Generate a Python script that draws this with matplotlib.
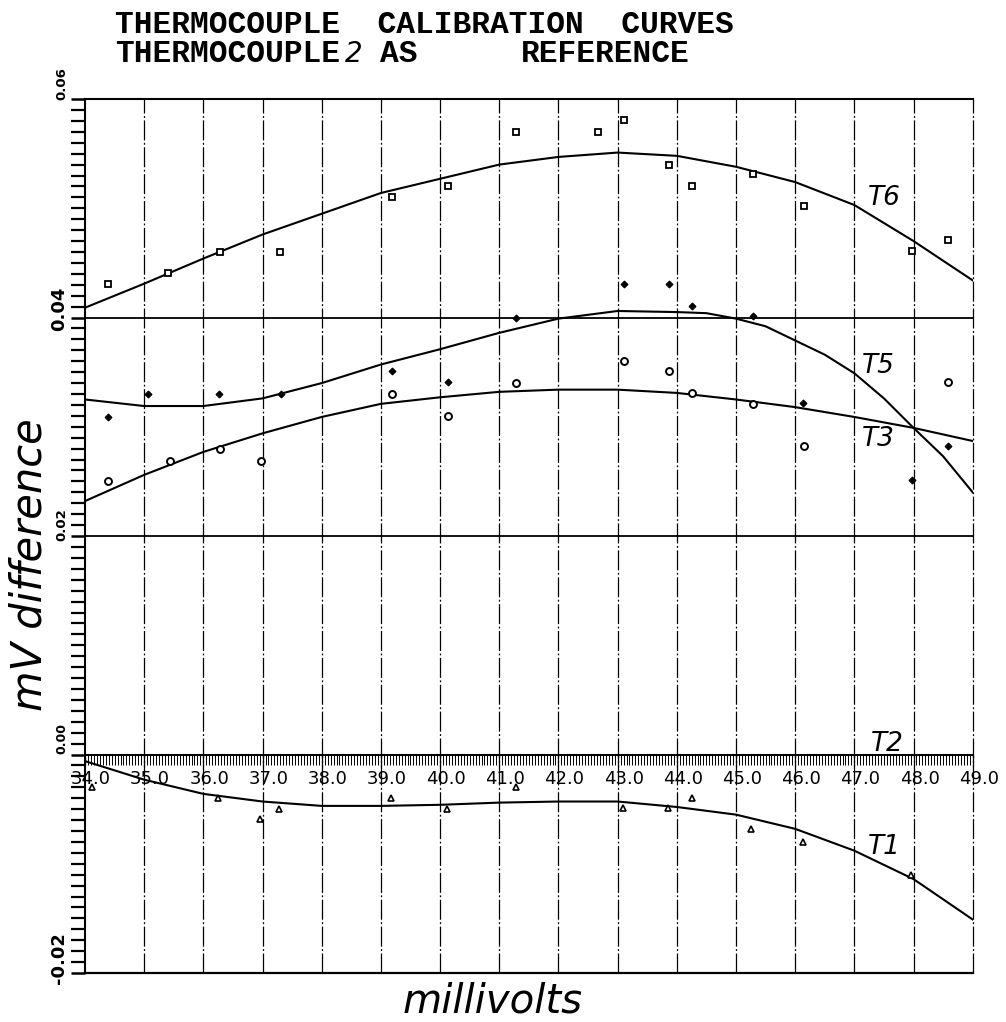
import numpy as np
import matplotlib
matplotlib.use('Agg')
import matplotlib.pyplot as plt
from matplotlib.ticker import MultipleLocator, FixedLocator
import matplotlib.transforms as mtransforms

### data

# measured points (millivolts, mV difference)
t6_x = [34.39, 35.41, 36.28, 37.29, 39.19, 40.14, 41.29, 42.67, 43.10, 43.87, 44.26, 45.29, 46.15, 47.97, 48.58]
t6_y = [0.0431, 0.0441, 0.0460, 0.0460, 0.0510, 0.0520, 0.0570, 0.0570, 0.0581, 0.0540, 0.0520, 0.0531, 0.0502, 0.0461, 0.0471]

t5_x = [34.39, 35.06, 36.27, 37.31, 39.19, 40.14, 41.29, 43.10, 43.87, 44.26, 45.29, 46.13, 47.97, 48.58]
t5_y = [0.0309, 0.0330, 0.0330, 0.0330, 0.0351, 0.0341, 0.0400, 0.0431, 0.0431, 0.0411, 0.0401, 0.0322, 0.0251, 0.0282]

t3_x = [34.39, 35.44, 36.28, 36.98, 39.19, 40.14, 41.29, 43.10, 43.87, 44.26, 45.29, 46.15, 48.58]
t3_y = [0.0250, 0.0269, 0.0280, 0.0269, 0.0330, 0.0310, 0.0340, 0.0360, 0.0351, 0.0331, 0.0321, 0.0282, 0.0341]

t1_x = [34.11, 36.25, 36.96, 37.28, 39.17, 40.11, 41.28, 43.09, 43.85, 44.25, 45.26, 46.13, 47.95]
t1_y = [-0.0030, -0.0040, -0.0059, -0.0050, -0.0040, -0.0050, -0.0030, -0.0049, -0.0049, -0.0040, -0.0068, -0.0080, -0.0110]

# fitted curves, read at each grid line
curve_x = [34, 35, 36, 37, 38, 39, 40, 41, 42, 43, 44, 45, 46, 47, 48, 49]
t6_curve = [0.0409, 0.0431, 0.0454, 0.0476, 0.0495, 0.0514, 0.0527, 0.0540, 0.0547, 0.0551,
            0.0548, 0.0538, 0.0524, 0.0503, 0.0470, 0.0434]
t3_curve = [0.0232, 0.0256, 0.0277, 0.0294, 0.0309, 0.0321, 0.0327, 0.0332, 0.0334, 0.0334,
            0.0331, 0.0325, 0.0318, 0.0309, 0.0299, 0.0287]
t1_curve = [-0.0006, -0.0023, -0.0036, -0.0043, -0.0047, -0.0047, -0.0046, -0.0044, -0.0043, -0.0043,
            -0.0048, -0.0055, -0.0068, -0.0088, -0.0114, -0.0151]
# T5 bends hard at the right end, so read it more often there
t5_curve_x = [34, 35, 36, 37, 38, 39, 40, 41, 42, 43, 44, 44.5, 45, 45.5, 46, 46.5, 47, 47.5, 48, 48.5, 49]
t5_curve = [0.0325, 0.0319, 0.0319, 0.0326, 0.0340, 0.0357, 0.0371, 0.0386, 0.0399, 0.0406, 0.0405,
            0.0404, 0.0399, 0.0392, 0.0379, 0.0366, 0.0349, 0.0326, 0.0299, 0.0273, 0.0240]

xticks = np.arange(34, 50)
yticks = [-0.02, 0.00, 0.02, 0.04, 0.06]
ytick_labels = ['-0.02', '0.00', '0.02', '0.04', '0.06']

### figure

fig = plt.figure(figsize=(10.06, 10.22), dpi=100)
ax = fig.add_axes([0.0845, 0.0479, 0.8824, 0.8552])

ax.set_xlim(34, 49)
ax.set_ylim(-0.02, 0.06)

# dash-dot vertical grid
dash = (0, (16, 2, 1.5, 2))
for xv in xticks[1:]:
    ax.axvline(xv, color='black', lw=0.9, linestyle=dash, clip_on=False, zorder=1)

# solid horizontal lines
for yv in [0.04, 0.02]:
    ax.axhline(yv, color='black', lw=1.3, zorder=1)
ax.axhline(-0.02, color='black', lw=1.6, clip_on=False, zorder=1)

# curves
for cx, cy in [(curve_x, t6_curve), (t5_curve_x, t5_curve), (curve_x, t3_curve), (curve_x, t1_curve)]:
    ax.plot(cx, cy, color='black', lw=1.5, zorder=3)

# points
ax.plot(t6_x, t6_y, ls='none', marker='s', ms=5, mfc='white', mec='black', mew=1.3, zorder=4)
ax.plot(t5_x, t5_y, ls='none', marker='D', ms=3.5, mfc='black', mec='black', mew=0.8, zorder=4)
ax.plot(t3_x, t3_y, ls='none', marker='o', ms=5, mfc='white', mec='black', mew=1.4, zorder=4)
ax.plot(t1_x, t1_y, ls='none', marker='^', ms=5, mfc='white', mec='black', mew=1.2, zorder=4)

# curve names
lab = dict(fontsize=19, style='italic', color='black', ha='center', va='center')
ax.text(47.5, 0.0509, 'T6', **lab)
ax.text(47.4, 0.0356, 'T5', **lab)
ax.text(47.4, 0.0289, 'T3', **lab)
ax.text(47.55, 0.0010, 'T2', **lab)
ax.text(47.5, -0.0085, 'T1', **lab)

# spines
ax.spines['right'].set_visible(False)
ax.spines['bottom'].set_position(('data', 0))
for s in ['top', 'left', 'bottom']:
    ax.spines[s].set_linewidth(1.5)

# x ticks on the zero line
ax.xaxis.set_major_locator(FixedLocator(xticks))
ax.xaxis.set_minor_locator(MultipleLocator(0.05))
ax.set_xticklabels(['%.1f' % v for v in xticks])
ax.tick_params(axis='x', which='major', direction='out', length=8, width=0.9, pad=3, labelsize=13)
ax.tick_params(axis='x', which='minor', direction='out', length=7, width=0.7)
offset = mtransforms.ScaledTranslation(6 / 100, 0, fig.dpi_scale_trans)
for lbl in ax.get_xticklabels():
    lbl.set_transform(lbl.get_transform() + offset)

# y ticks, one minor tick every 0.001
ax.set_yticks(yticks)
ax.set_yticks(np.arange(-20, 61) / 1000, minor=True)
ax.set_yticklabels(ytick_labels)
ax.yaxis.set_ticks_position('left')
ax.tick_params(axis='y', which='major', left=True, direction='out', length=10, width=1.8, pad=2,
               color='black')
ax.tick_params(axis='y', which='minor', left=True, direction='out', length=10, width=1.6,
               color='black')
ysizes = [13, 9, 9.5, 13, 9.5]
ylift = [15, 16, 11, 9, 15]     # px above the tick
for lbl, sz, dy in zip(ax.get_yticklabels(), ysizes, ylift):
    lbl.set_rotation(90)
    lbl.set_fontsize(sz)
    lbl.set_fontweight('bold')
    lbl.set_va('center')
    lbl.set_ha('right')
    lbl.set_transform(lbl.get_transform() + mtransforms.ScaledTranslation(0, dy / 100, fig.dpi_scale_trans))

# axis titles
fig.text(30 / 1006, 1 - 565 / 1022, 'mV difference', rotation=90, fontsize=30, style='italic',
         ha='center', va='center')
fig.text(493 / 1006, 1 - 1001 / 1022, 'millivolts', fontsize=29, style='italic', ha='center', va='center')

# heading
head = dict(family='Liberation Mono', fontsize=22.5, fontweight='bold', va='baseline')
fig.text(115 / 1006, 1 - 33 / 1022, 'THERMOCOUPLE  CALIBRATION  CURVES', ha='left', **head)
fig.text(115 / 1006, 1 - 62 / 1022, 'THERMOCOUPLE', ha='left', **head)
fig.text(345 / 1006, 1 - 62 / 1022, '2', ha='left', va='baseline', fontsize=20, style='italic')
fig.text(380 / 1006, 1 - 62 / 1022, 'AS', ha='left', **head)
fig.text(690 / 1006, 1 - 62 / 1022, 'REFERENCE', ha='right', **head)

fig.savefig('out.png', dpi=100)
